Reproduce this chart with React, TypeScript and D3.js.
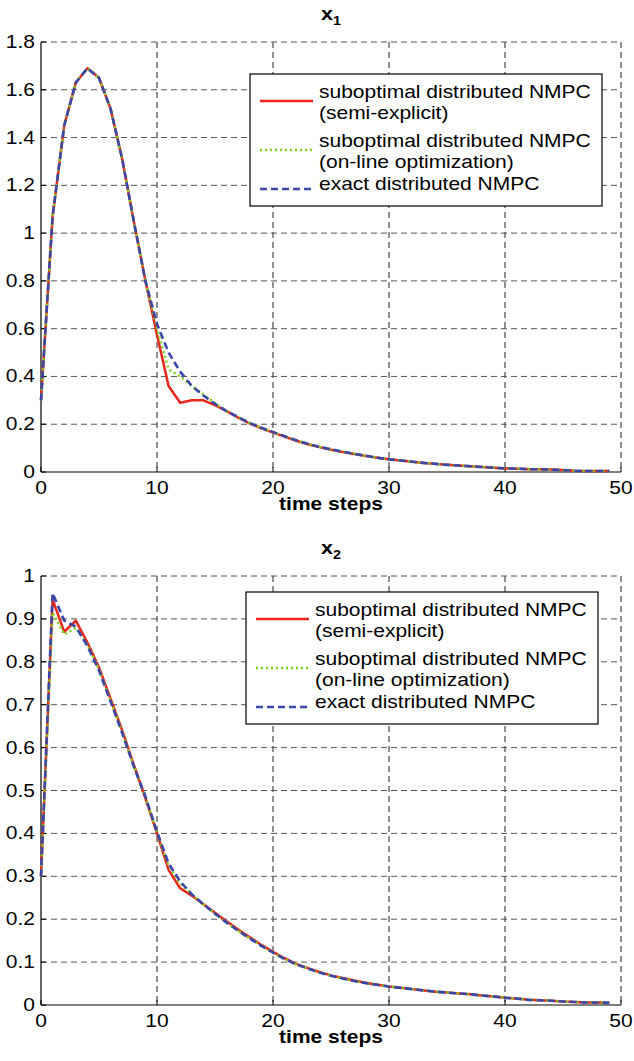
import React from "react";
import * as d3 from "d3";

// ---- data ----
const timeSteps = [
  0, 1, 2, 3, 4, 5, 6, 7, 8, 9, 10, 11, 12, 13, 14, 15, 16, 17, 18, 19, 20, 21, 22, 23, 24,
  25, 26, 27, 28, 29, 30, 31, 32, 33, 34, 35, 36, 37, 38, 39, 40, 41, 42, 43, 44, 45, 46, 47, 48, 49,
];

const x1SemiExplicit = [
  0.3, 1.07, 1.45, 1.63, 1.69, 1.65, 1.52, 1.31, 1.05, 0.8, 0.575, 0.36, 0.29, 0.3, 0.3, 0.28, 0.255, 0.228,
  0.203, 0.183, 0.165, 0.148, 0.131, 0.116, 0.104, 0.093, 0.084, 0.075, 0.067, 0.06, 0.053, 0.048, 0.043,
  0.038, 0.034, 0.03, 0.027, 0.024, 0.021, 0.018, 0.015, 0.014, 0.012, 0.011, 0.01, 0.008, 0.005, 0.004,
  0.004, 0.004,
];
const x1OnLine = [
  0.3, 1.07, 1.45, 1.63, 1.69, 1.65, 1.52, 1.31, 1.05, 0.8, 0.6, 0.43, 0.4, 0.36, 0.325, 0.288, 0.255, 0.23,
  0.205, 0.185, 0.167, 0.15, 0.133, 0.118, 0.105, 0.095, 0.085, 0.076, 0.068, 0.06, 0.053, 0.048, 0.043,
  0.038, 0.034, 0.03, 0.027, 0.024, 0.021, 0.018, 0.015, 0.014, 0.012, 0.011, 0.01, 0.008, 0.005, 0.004,
  0.004, 0.004,
];
const x1Exact = [
  0.3, 1.07, 1.45, 1.63, 1.69, 1.65, 1.52, 1.31, 1.05, 0.8, 0.62, 0.5, 0.42, 0.36, 0.32, 0.285, 0.255, 0.23,
  0.205, 0.185, 0.168, 0.15, 0.133, 0.118, 0.105, 0.095, 0.085, 0.076, 0.068, 0.06, 0.053, 0.048, 0.043,
  0.038, 0.034, 0.03, 0.027, 0.024, 0.021, 0.018, 0.015, 0.014, 0.012, 0.011, 0.01, 0.008, 0.005, 0.004,
  0.004, 0.004,
];

const x2SemiExplicit = [
  0.3, 0.945, 0.87, 0.896, 0.845, 0.787, 0.714, 0.64, 0.56, 0.482, 0.4, 0.315, 0.272, 0.255, 0.235, 0.215,
  0.195, 0.176, 0.158, 0.14, 0.124, 0.109, 0.096, 0.086, 0.077, 0.069, 0.063, 0.057, 0.052, 0.047, 0.043,
  0.04, 0.037, 0.034, 0.031, 0.029, 0.027, 0.025, 0.022, 0.02, 0.017, 0.015, 0.012, 0.011, 0.01, 0.008,
  0.007, 0.006, 0.006, 0.005,
];
const x2OnLine = [
  0.3, 0.915, 0.864, 0.879, 0.84, 0.782, 0.709, 0.636, 0.557, 0.484, 0.402, 0.325, 0.283, 0.258, 0.235, 0.213,
  0.192, 0.173, 0.155, 0.138, 0.122, 0.107, 0.095, 0.085, 0.076, 0.068, 0.062, 0.056, 0.051, 0.047, 0.043,
  0.04, 0.037, 0.034, 0.031, 0.029, 0.027, 0.025, 0.022, 0.02, 0.017, 0.015, 0.012, 0.011, 0.01, 0.008,
  0.007, 0.006, 0.006, 0.005,
];
const x2Exact = [
  0.3, 0.96, 0.896, 0.882, 0.837, 0.78, 0.707, 0.634, 0.556, 0.486, 0.404, 0.33, 0.288, 0.258, 0.235, 0.213,
  0.192, 0.173, 0.155, 0.138, 0.122, 0.107, 0.095, 0.085, 0.076, 0.068, 0.062, 0.056, 0.051, 0.047, 0.043,
  0.04, 0.037, 0.034, 0.031, 0.029, 0.027, 0.025, 0.022, 0.02, 0.017, 0.015, 0.012, 0.011, 0.01, 0.008,
  0.007, 0.006, 0.006, 0.005,
];

const xTicks = [0, 10, 20, 30, 40, 50];
const x1Ticks = [0, 0.2, 0.4, 0.6, 0.8, 1, 1.2, 1.4, 1.6, 1.8];
const x2Ticks = [0, 0.1, 0.2, 0.3, 0.4, 0.5, 0.6, 0.7, 0.8, 0.9, 1];
const xTickLabels = ["0", "10", "20", "30", "40", "50"];
const x1TickLabels = ["0", "0.2", "0.4", "0.6", "0.8", "1", "1.2", "1.4", "1.6", "1.8"];
const x2TickLabels = ["0", "0.1", "0.2", "0.3", "0.4", "0.5", "0.6", "0.7", "0.8", "0.9", "1"];

const legendLabels = [
  ["suboptimal distributed NMPC", "(semi-explicit)"],
  ["suboptimal distributed NMPC", "(on-line optimization)"],
  ["exact distributed NMPC"],
];
const xLabel = "time steps";

// ---- style ----
const FONT = "'Liberation Sans', Arial, Helvetica, sans-serif";
const SX = 1.2;
const RED = "#e8261c";
const GREEN = "#7ed321";
const BLUE = "#3b47a8";
const SERIES_STYLE = [
  { color: RED, dash: undefined as string | undefined, width: 2.5 },
  { color: GREEN, dash: "2,3", width: 2.6 },
  { color: BLUE, dash: "7,4", width: 2.6 },
];

function T(props: {
  x: number;
  y: number;
  size: number;
  anchor?: string;
  bold?: boolean;
  children: React.ReactNode;
}) {
  const { x, y, size, anchor = "start", bold, children } = props;
  return (
    <text
      transform={`translate(${x},${y}) scale(${SX},1)`}
      fontSize={size}
      fontFamily={FONT}
      fontWeight={bold ? "bold" : "normal"}
      textAnchor={anchor}
      fill="#000"
    >
      {children}
    </text>
  );
}

function Panel(props: {
  top: number;
  bottom: number;
  yMax: number;
  yTicks: number[];
  yTickLabels: string[];
  series: number[][];
  sub: string;
  legend: { x: number; y: number };
}) {
  const { top, bottom, yMax, yTicks, yTickLabels, series, sub, legend } = props;
  const left = 41;
  const right = 621;
  const x = d3.scaleLinear().domain([0, 50]).range([left, right]);
  const y = d3.scaleLinear().domain([0, yMax]).range([bottom, top]);
  const line = d3
    .line<number>()
    .x((_, i) => x(timeSteps[i]))
    .y((d) => y(d));

  const lw = 352;
  const lh = 132;
  const rowY = [27, 76, 115];
  return (
    <g>
      {/* title */}
      <g transform={`translate(${(left + right) / 2},${top - 22}) scale(${SX},1)`}>
        <text x={0} y={0} fontSize={18} fontFamily={FONT} fontWeight="bold" textAnchor="middle">
          x<tspan fontSize={12} dy={5}>{sub}</tspan>
        </text>
      </g>
      {/* grid */}
      {xTicks.slice(1).map((t) => (
        <line
          key={"gx" + t}
          x1={x(t)}
          x2={x(t)}
          y1={top}
          y2={bottom}
          stroke="#222"
          strokeWidth={1}
          strokeDasharray="6,4"
        />
      ))}
      {yTicks.slice(1).map((t) => (
        <line
          key={"gy" + t}
          x1={left}
          x2={right}
          y1={y(t)}
          y2={y(t)}
          stroke="#555"
          strokeWidth={1}
          strokeDasharray="6,4"
        />
      ))}
      {/* axes */}
      <line x1={left} x2={left} y1={top} y2={bottom} stroke="#000" strokeWidth={1.2} />
      <line x1={left} x2={right} y1={bottom} y2={bottom} stroke="#000" strokeWidth={1.2} />
      {yTicks.map((t) => (
        <line key={"ty" + t} x1={left} x2={left + 5} y1={y(t)} y2={y(t)} stroke="#000" />
      ))}
      {xTicks.map((t) => (
        <line key={"tx" + t} x1={x(t)} x2={x(t)} y1={bottom} y2={bottom - 5} stroke="#000" />
      ))}
      {/* tick labels */}
      {yTicks.map((t, i) => (
        <T key={"ly" + t} x={left - 6} y={y(t) + 6} size={17.5} anchor="end">
          {yTickLabels[i]}
        </T>
      ))}
      {xTicks.map((t, i) => (
        <T key={"lx" + t} x={x(t)} y={bottom + 22} size={17.5} anchor="middle">
          {xTickLabels[i]}
        </T>
      ))}
      <T x={(left + right) / 2} y={bottom + 38} size={17.5} anchor="middle" bold>
        {xLabel}
      </T>
      {/* series */}
      {series.map((s, i) => (
        <path
          key={"s" + i}
          d={line(s) || ""}
          fill="none"
          stroke={SERIES_STYLE[i].color}
          strokeWidth={SERIES_STYLE[i].width}
          strokeDasharray={SERIES_STYLE[i].dash}
          strokeLinejoin="round"
        />
      ))}
      {/* legend */}
      <g transform={`translate(${legend.x},${legend.y})`}>
        <rect x={0} y={0} width={lw} height={lh} fill="#fff" stroke="#000" strokeWidth={1.2} />
        {legendLabels.map((lines, i) => (
          <g key={"lg" + i}>
            <line
              x1={10}
              x2={63}
              y1={rowY[i]}
              y2={rowY[i]}
              stroke={SERIES_STYLE[i].color}
              strokeWidth={SERIES_STYLE[i].width}
              strokeDasharray={SERIES_STYLE[i].dash}
            />
            {lines.map((ln, j) => (
              <T key={j} x={69} y={rowY[i] - 3 + (lines.length > 1 ? 0 : 4) + j * 21} size={17.5}>
                {ln}
              </T>
            ))}
          </g>
        ))}
      </g>
    </g>
  );
}

export default function App() {
  return (
    <svg width={634} height={1061} style={{ position: "absolute", left: 0, top: 0, background: "#fff" }}>
      <rect x={0} y={0} width={634} height={1061} fill="#fff" />
      <Panel
        top={42}
        bottom={472}
        yMax={1.8}
        yTicks={x1Ticks}
        yTickLabels={x1TickLabels}
        series={[x1SemiExplicit, x1OnLine, x1Exact]}
        sub="1"
        legend={{ x: 250, y: 74 }}
      />
      <Panel
        top={576}
        bottom={1005}
        yMax={1}
        yTicks={x2Ticks}
        yTickLabels={x2TickLabels}
        series={[x2SemiExplicit, x2OnLine, x2Exact]}
        sub="2"
        legend={{ x: 246, y: 592 }}
      />
    </svg>
  );
}
